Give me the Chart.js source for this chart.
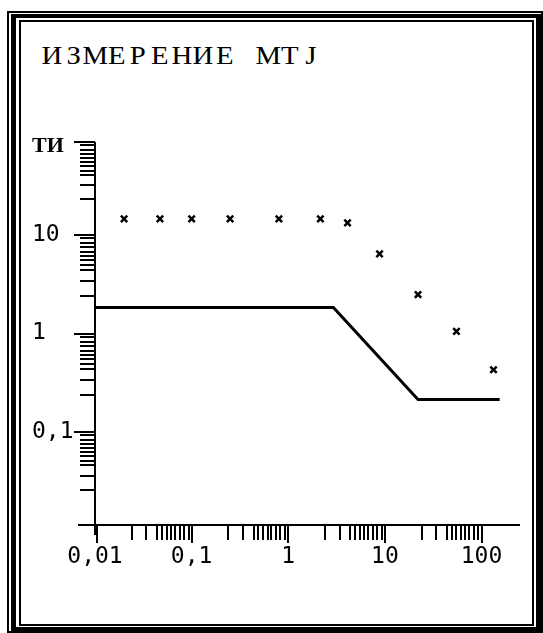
<!DOCTYPE html>
<html lang="ru">
<head>
<meta charset="UTF-8">
<title>Измерение MTJ</title>
<style>
  html, body { margin: 0; padding: 0; background: #fff; }
  body { width: 543px; height: 633px; position: relative; overflow: hidden; }
  .frame { position: absolute; box-sizing: border-box; border: solid #000; }
  #f1 { left: 7px; top: 11px; right: 0; bottom: 0; border-width: 2px; }
  #f2 { left: 11px; top: 14px; right: 0; bottom: 0; border-width: 4px 7px 6px 5px; }
  #f3 { left: 19px; top: 20px; width: 515px; height: 606px; border-width: 2px; }
  #title {
    position: absolute; left: 41px; top: 41px;
    font-family: "Liberation Serif", serif; font-size: 25px; line-height: 30px;
    white-space: nowrap; color: #000;
  }
  #title span { display: inline-block; width: 21.6px; text-align: center; transform: scaleX(1.15); }
  #chart { position: absolute; left: 0; top: 0; }
</style>
</head>
<body>
<div class="frame" id="f1"></div>
<div class="frame" id="f2"></div>
<div class="frame" id="f3"></div>
<div id="title"></div>
<canvas id="chart" width="543" height="633"></canvas>

<script src="https://cdn.jsdelivr.net/npm/chart.js"></script>
<script>
// заголовок
const titleText = 'ИЗМЕРЕНИЕ MTJ';

// оси
const xMin = 0.01, xMax = 250;
const yMin = 0.0115, yMax = 87;
const xMajor = [0.01, 0.1, 1, 10, 100];
const xLabels = ['0,01', '0,1', '1', '10', '100'];
const yMajor = [0.1, 1, 10, 87];
const yLabels = ['0,1', '1', '10', 'ТИ'];
// подпись "ТИ" стоит чуть ниже верхнего деления
const yLabelAt = [0.1, 1, 10, 78];
// положение мелких делений внутри декады
const minorSteps = [2.4, 3.4, 4.4, 4.9, 5.5, 6.1, 6.7, 7.5, 8.3, 9.3];

// измерения (крестики)
const measX = [0.02, 0.047, 0.1, 0.25, 0.8, 2.15, 4.1, 8.8, 22, 55, 133];
const measY = [14.5, 14.5, 14.5, 14.5, 14.5, 14.5, 13.2, 6.4, 2.48, 1.05, 0.43];

// модель (линия)
const modelX = [0.01, 2.93, 22, 154];
const modelY = [1.83, 1.83, 0.215, 0.215];

// заголовок по знакоместам, как на старом экране
const titleEl = document.getElementById('title');
for (const ch of titleText) {
  const s = document.createElement('span');
  s.textContent = ch === ' ' ? '\u00a0' : ch;
  titleEl.appendChild(s);
}

// мелкие деления между соседними границами (неполная декада тоже делится пропорционально)
function minorValues(bounds) {
  const out = [];
  for (let i = 0; i < bounds.length - 1; i++) {
    const lo = bounds[i], hi = bounds[i + 1];
    minorSteps.forEach(m => out.push(lo * Math.pow(hi / lo, Math.log10(m))));
  }
  return out;
}

const axesPlugin = {
  id: 'oldAxes',
  afterDraw(chart) {
    const { ctx, chartArea: a, scales: { x, y } } = chart;
    ctx.save();
    ctx.strokeStyle = '#000';
    ctx.lineWidth = 2;
    ctx.beginPath();
    // линии осей немного заходят за начало координат
    ctx.moveTo(a.left - 17, a.bottom);
    ctx.lineTo(a.right, a.bottom);
    ctx.moveTo(a.left, a.top);
    ctx.lineTo(a.left, a.bottom + 10);

    yMajor.forEach(v => {
      const py = Math.round(y.getPixelForValue(v));
      ctx.moveTo(a.left - 21, py);
      ctx.lineTo(a.left, py);
    });
    minorValues([yMin, 0.1, 1, 10, yMax]).forEach(v => {
      const py = Math.round(y.getPixelForValue(v));
      ctx.moveTo(a.left - 15, py);
      ctx.lineTo(a.left, py);
    });

    xMajor.forEach(v => {
      const px = Math.round(x.getPixelForValue(v)) + (v === xMin ? 2 : 0);
      ctx.moveTo(px, a.bottom);
      ctx.lineTo(px, a.bottom + 18);
    });
    minorValues([0.01, 0.1, 1, 10, 100]).forEach(v => {
      const px = Math.round(x.getPixelForValue(v));
      ctx.moveTo(px, a.bottom);
      ctx.lineTo(px, a.bottom + 15);
    });
    ctx.stroke();
    ctx.restore();
  }
};

const monoFont = { family: 'DejaVu Sans Mono', size: 23 };

new Chart(document.getElementById('chart'), {
  type: 'scatter',
  data: {
    datasets: [
      {
        data: modelX.map((v, i) => ({ x: v, y: modelY[i] })),
        showLine: true,
        borderColor: '#000',
        borderWidth: 3,
        pointRadius: 0,
        fill: false
      },
      {
        data: measX.map((v, i) => ({ x: v, y: measY[i] })),
        showLine: false,
        pointStyle: 'crossRot',
        pointRadius: 4.5,
        borderWidth: 2.5,
        borderColor: '#000',
        backgroundColor: '#000'
      }
    ]
  },
  options: {
    responsive: false,
    animation: false,
    devicePixelRatio: 1,
    layout: { padding: { left: 32, top: 142, right: 23, bottom: 0 } },
    plugins: { legend: { display: false }, tooltip: { enabled: false } },
    scales: {
      x: {
        type: 'logarithmic',
        min: xMin,
        max: xMax,
        grid: { display: false, drawTicks: false },
        border: { display: false },
        afterBuildTicks: s => { s.ticks = xMajor.map(v => ({ value: v })); },
        afterFit: s => { s.height = 108; },
        ticks: {
          autoSkip: false,
          maxRotation: 0,
          padding: 18,
          color: '#000',
          font: monoFont,
          callback: (v, i) => xLabels[i]
        }
      },
      y: {
        type: 'logarithmic',
        min: yMin,
        max: yMax,
        grid: { display: false, drawTicks: false },
        border: { display: false },
        afterBuildTicks: s => { s.ticks = yLabelAt.map(v => ({ value: v })); },
        afterFit: s => { s.width = 63; },
        ticks: {
          autoSkip: false,
          crossAlign: 'far',
          color: '#000',
          font: c => c.index === 3
            ? { family: 'Liberation Serif', size: 22, weight: 'bold' }
            : monoFont,
          callback: (v, i) => yLabels[i]
        }
      }
    }
  },
  plugins: [axesPlugin]
});
</script>
</body>
</html>
